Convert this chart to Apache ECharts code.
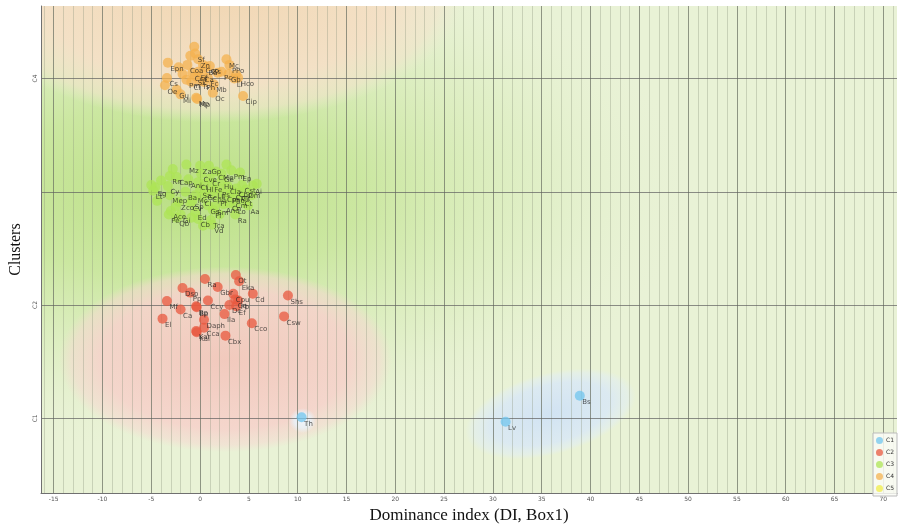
<!DOCTYPE html>
<html><head><meta charset="utf-8">
<script src="https://cdn.jsdelivr.net/npm/echarts@6/dist/echarts.min.js"></script>
<style>html,body{margin:0;padding:0;background:#fff}#c{width:898px;height:529px}</style>
</head><body><div id="c"></div>
<script>
// ---------- data ----------
const clusterNames = ['C1', 'C2', 'C3', 'C4', 'C5'];
const xTickValues = [-15, -10, -5, 0, 5, 10, 15, 20, 25, 30, 35, 40, 45, 50, 55, 60, 65, 70];
const xMinorTickValues = [-16, -15, -14, -13, -12, -11, -10, -9, -8, -7, -6, -5, -4, -3, -2, -1, 0, 1, 2, 3, 4, 5, 6, 7, 8, 9, 10,
  11, 12, 13, 14, 15, 16, 17, 18, 19, 20, 21, 22, 23, 24, 25, 26, 27, 28, 29, 30, 31, 32, 33, 34, 35, 36, 37, 38, 39, 40,
  41, 42, 43, 44, 45, 46, 47, 48, 49, 50, 51, 52, 53, 54, 55, 56, 57, 58, 59, 60, 61, 62, 63, 64, 65, 66, 67, 68, 69, 70, 71];
const yTickValues = [1, 2, 3, 4];
const yLabelValues = [1, 2, 4];

const c1X = [10.4, 31.3, 38.9];
const c1Y = [1.01, 0.97, 1.20];
const c1Labels = ['Th', 'Lv', 'Bs'];

const c2X = [3.66, 4.0, 0.5, 1.8, -1.8, -1.0, 5.4, 3.4, 3.6, 3.9, 3.7, 0.8, -3.4, -2.0, -0.4, -0.35, 2.5, -3.85, 9.0, 8.6, 0.4, 5.3, 0.4, -0.4, -0.35, 2.6, 3.0];
const c2Y = [2.265, 2.21, 2.23, 2.16, 2.15, 2.11, 2.10, 2.10, 2.05, 2.04, 1.99, 2.04, 2.035, 1.96, 1.99, 1.98, 1.92, 1.88, 2.085, 1.90, 1.87, 1.84, 1.80, 1.77, 1.76, 1.73, 2.00];
const c2Labels = ['Ot', 'Eka', 'Ra', 'Gbr', 'Dsp', 'Pp', 'Cd', 'Cpu', 'Cq', 'Fb', 'Ef', 'Ccy', 'Mf', 'Ca', 'Bp', 'Bp', 'Ila', 'El', 'Shs', 'Csw', 'Daph', 'Cco', 'Cca', 'Kai', 'Kal', 'Cbx', 'Dc'];

const c3X = [-1.4, 0.0, 0.9, 0.1, 1.6, 2.2, 3.2, 4.1, -2.4, -1.2, -3.1, -4.6, -4.8, -3.3, -3.1, -0.2, 2.0, 3.7, 5.4, 4.9,
  3.6, 1.2, 1.1, -0.2, -0.5, 0.8, 1.5, 3.6, -3.0, -3.2, -2.0, -2.4, -2.2, -1.0, 2.4, 3.0, 1.3, 0.0, 0.5, 1.0,
  1.5, 2.5, 3.0, -0.5, 0.2, 1.8, 2.8, 3.4, 4.0, 4.3, 4.7, 4.3, 1.2, 0.4, 2.2, 1.0, -1.5, -0.8, 3.4, -4.0,
  -5.0, -2.8, 5.8, 5.3, -2.5, 0.3, 2.7, -4.4, -0.9, 2.0, 4.6];
const c3Y = [3.24, 3.23, 3.23, 3.16, 3.18, 3.16, 3.19, 3.17, 3.13, 3.11, 3.14, 3.04, 3.01, 3.05, 2.97, 3.085, 3.03, 3.03, 3.055, 2.88,
  2.80, 2.71, 2.75, 2.76, 2.82, 2.88, 2.87, 2.88, 2.83, 2.80, 2.80, 2.77, 2.91, 2.90, 2.89, 2.90, 2.84, 3.02, 3.00, 2.98,
  3.02, 2.98, 2.97, 2.97, 2.95, 2.95, 3.05, 3.00, 2.99, 3.06, 3.02, 2.95, 3.07, 3.07, 3.10, 3.12, 3.00, 2.92, 2.93, 3.10,
  3.06, 3.20, 3.07, 2.97, 2.87, 2.70, 3.24, 2.92, 2.77, 2.80, 2.90];
const c3Labels = ['Mz', 'Za', 'Gp', 'Cve', 'CMe', 'Ge', 'Pm', 'Ep', 'Cap', 'Ani', 'Rn', 'Eg', 'Lt', 'Cy', 'Mep', 'Cf', 'Ps', 'Cbo', 'Ai', 'Aa',
  'Ra', 'Vd', 'Tca', 'Cb', 'Ed', 'Gs', 'Sm', 'Lo', 'Ace', 'Pe', 'Gi', 'Qb', 'Zco', 'Cv', 'Anc', 'Cn', 'Fl', 'Sa', 'Gc', 'Cpa',
  'Lp', 'Cps', 'Pho', 'Mc', 'Cl', 'Pf', 'Cla', 'Cpn', 'Cc', 'Cst', 'Dm', 'Ct', 'Fe', 'Hl', 'Hu', 'Cr', 'Ba', 'Sp', 'Cm', '',
  '', '', '', '', '', '', '', '', '', '', ''];

const c4X = [-0.6, -0.5, -0.2, -1.0, -1.3, -3.3, -3.4, -3.6, -2.4, -2.0, -1.4, -0.4, -0.3, 1.4, 1.3, 0.8, 1.0, 2.7, 3.0, 2.9,
  2.2, 3.9, 3.5, 4.4, 3.7, -0.2, 0.2, -0.5, 0.0, 0.4, -0.8, 0.3, 0.6, -0.9, 1.8, -2.2, -1.8];
const c4Y = [4.28, 4.22, 4.17, 4.20, 4.12, 4.14, 4.005, 3.94, 3.90, 3.86, 3.99, 3.83, 3.82, 3.95, 3.875, 4.006, 4.11, 4.17, 4.12, 4.04,
  4.06, 4.006, 4.00, 3.845, 4.035, 4.06, 4.04, 4.02, 3.98, 3.97, 4.05, 4.12, 4.10, 3.97, 4.05, 4.10, 4.04];
const c4Labels = ['', 'Sf', 'Zn', '', 'Coa', 'Epn', 'Cs', 'Oe', 'Gu', 'Mi', 'Pm', 'Mp', 'Mp', 'Mb', 'Oc', 'Fc', 'Zs', 'Mc', 'PPo', 'Gb',
  'Pc', 'Hco', 'Ll', 'Cip', '', 'Ef', 'Ca', 'Sk', 'Ts', 'Ph', 'Ccs', 'Ceo', 'Ba', 'Cl', '', '', ''];

const c5X = [];
const c5Y = [];
const c5Labels = [];

// background density regions (cluster envelopes), in data units
const regionX = [-2.0, 1.5, 2.6, 35.9, 10.5];
const regionY = [3.0, 4.75, 1.52, 1.04, 0.98];
const regionRX = [53, 25.6, 17.1, 9.0, 1.4];
const regionRY = [2.3, 1.14, 0.82, 0.36, 0.11];
const regionRot = [0, 0, 0, 15, 0];

// ---------- styles ----------
const pointColors = ['#72c6ee', '#e8583f', '#ade455', '#f4b24f', '#f0ec48'];
const regionStops = [
  [[0, 'rgba(186,223,132,1)'], [0.35, 'rgba(200,230,155,0.9)'], [0.7, 'rgba(218,237,188,0.55)'], [1, 'rgba(232,242,212,0)']],
  [[0, 'rgba(241,214,178,1)'], [0.7, 'rgba(244,224,198,0.97)'], [0.9, 'rgba(244,228,205,0.6)'], [1, 'rgba(240,235,212,0)']],
  [[0, 'rgba(243,198,188,0.92)'], [0.75, 'rgba(246,210,203,0.88)'], [0.92, 'rgba(246,216,209,0.55)'], [1, 'rgba(246,218,210,0)']],
  [[0, 'rgba(208,226,244,0.95)'], [0.7, 'rgba(217,232,246,0.85)'], [0.9, 'rgba(224,237,246,0.5)'], [1, 'rgba(225,238,245,0)']],
  [[0, 'rgba(240,246,252,0.95)'], [0.6, 'rgba(232,242,250,0.8)'], [1, 'rgba(232,242,250,0)']]
];

function scatterData(xs, ys, labels) {
  return xs.map((x, i) => ({ value: [x, ys[i]], name: labels[i] }));
}
const regionData = regionX.map((x, i) => [x, regionY[i], regionRX[i], regionRY[i], regionRot[i], i]);

const chart = echarts.init(document.getElementById('c'), null, { renderer: 'canvas' });

function pointSeries(name, idx, xs, ys, labels) {
  return {
    name: name, type: 'scatter', xAxisIndex: 0, yAxisIndex: 0, z: 5,
    symbol: 'circle', symbolSize: 10,
    itemStyle: { color: pointColors[idx], opacity: 0.75 },
    label: {
      show: true, formatter: '{b}', position: [7.5, 8], align: 'left', verticalAlign: 'top',
      fontSize: 7, fontFamily: 'DejaVu Sans', color: '#1a1a1a'
    },
    emphasis: { disabled: true },
    data: scatterData(xs, ys, labels)
  };
}

const option = {
  animation: false,
  backgroundColor: '#ffffff',
  grid: { left: 41, right: 1, top: 6, bottom: 32, containLabel: false },
  legend: {
    data: clusterNames, orient: 'vertical', right: 1, bottom: 33,
    padding: [4, 3, 4, 3], itemGap: 5, itemWidth: 7, itemHeight: 7, icon: 'circle',
    backgroundColor: 'rgba(250,252,246,0.85)', borderColor: '#bbbbbb', borderWidth: 1,
    textStyle: { fontSize: 6, fontFamily: 'DejaVu Sans', color: '#333', padding: [0, 0, 0, -2] },
    selectedMode: false
  },
  xAxis: [{
    type: 'value', min: -16.3, max: 71.4, position: 'bottom', z: 1,
    name: 'Dominance index (DI, Box1)', nameLocation: 'middle', nameGap: 13,
    nameTextStyle: { fontFamily: 'Liberation Serif', fontSize: 17, color: '#111' },
    axisLine: { show: true, onZero: false, lineStyle: { color: '#707070', width: 1 } },
    axisTick: { show: false, customValues: xTickValues },
    axisLabel: { customValues: xTickValues, fontSize: 6, color: '#555', margin: 3, fontFamily: 'DejaVu Sans' },
    splitLine: { show: true, lineStyle: { color: 'rgba(95,100,90,0.55)', width: 1 } }
  }, {
    type: 'value', min: -16.3, max: 71.4, position: 'bottom', z: 0,
    axisLine: { show: false }, axisLabel: { show: false },
    axisTick: { show: false, customValues: xMinorTickValues },
    splitLine: { show: true, lineStyle: { color: 'rgba(140,150,125,0.35)', width: 1 } }
  }],
  yAxis: [{
    type: 'value', min: 0.34, max: 4.64, z: 1,
    name: 'Clusters', nameLocation: 'middle', nameGap: 17,
    nameTextStyle: { fontFamily: 'Liberation Serif', fontSize: 16, color: '#111' },
    axisLine: { show: true, onZero: false, lineStyle: { color: '#707070', width: 1 } },
    axisTick: { show: false, customValues: yTickValues },
    axisLabel: { customValues: yLabelValues, formatter: v => 'C' + v, rotate: 90, fontSize: 6, color: '#555', margin: 3, fontFamily: 'DejaVu Sans' },
    splitLine: { show: true, lineStyle: { color: 'rgba(95,95,95,0.7)', width: 1 } }
  }],
  series: [
    {
      type: 'custom', name: 'bg', z: -5, silent: true, clip: true, legendHoverLink: false,
      xAxisIndex: 0, yAxisIndex: 0,
      data: [[0]],
      renderItem: function (params, api) {
        const cs = params.coordSys;
        return { type: 'rect', shape: { x: cs.x, y: cs.y, width: cs.width, height: cs.height }, style: { fill: '#e9f2d6' } };
      }
    },
    {
      type: 'custom', name: 'regions', z: -4, silent: true, clip: true,
      xAxisIndex: 0, yAxisIndex: 0,
      data: regionData,
      renderItem: function (params, api) {
        const c = api.coord([api.value(0), api.value(1)]);
        const s = api.size([api.value(2), api.value(3)]);
        const idx = api.value(5);
        return {
          type: 'circle', shape: { cx: 0, cy: 0, r: 100 },
          x: c[0], y: c[1], scaleX: s[0] / 100, scaleY: s[1] / 100,
          rotation: api.value(4) * Math.PI / 180,
          style: {
            fill: {
              type: 'radial', x: 0.5, y: 0.5, r: 0.5, global: false,
              colorStops: regionStops[idx].map(st => ({ offset: st[0], color: st[1] }))
            }
          }
        };
      }
    },
    pointSeries('C1', 0, c1X, c1Y, c1Labels),
    pointSeries('C2', 1, c2X, c2Y, c2Labels),
    pointSeries('C3', 2, c3X, c3Y, c3Labels),
    pointSeries('C4', 3, c4X, c4Y, c4Labels),
    pointSeries('C5', 4, c5X, c5Y, c5Labels)
  ]
};
chart.setOption(option);
</script></body></html>
